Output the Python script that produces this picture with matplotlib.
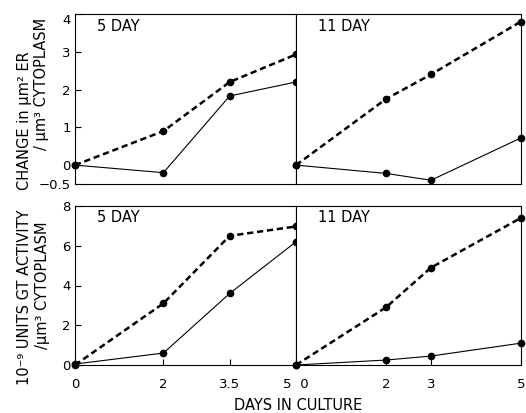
import matplotlib.pyplot as plt

# dias em cultura
dias5 = [0, 2, 3.5, 5]
dias11 = [0, 2, 3, 5]

# ER (topo)
er5_tracejada = [0, 0.9, 2.2, 2.93]
er5_solida = [0, -0.2, 1.83, 2.2]
er11_tracejada = [0, 1.75, 2.4, 3.8]
er11_solida = [0, -0.22, -0.4, 0.72]

# GT (baixo)
gt5_tracejada = [0, 3.1, 6.5, 6.97]
gt5_solida = [0.05, 0.6, 3.6, 6.2]
gt11_tracejada = [0, 2.9, 4.9, 7.4]
gt11_solida = [0, 0.25, 0.45, 1.1]

plt.rcParams['font.family'] = 'DejaVu Sans'
plt.rcParams['font.size'] = 9.5

fig = plt.figure(figsize=(5.26, 4.13), dpi=100)

ax_tl = fig.add_axes([75/526, 1-184/413, 221/526, 170/413])
ax_tr = fig.add_axes([296/526, 1-184/413, 225/526, 170/413])
ax_bl = fig.add_axes([75/526, 1-365/413, 221/526, 159/413])
ax_br = fig.add_axes([296/526, 1-365/413, 225/526, 159/413])


def desenha(ax, x, tracejada, solida, titulo):
    ax.plot(x, tracejada, color='black', linestyle=(0, (2.5, 1.5)), linewidth=1.8,
            marker='o', markersize=4.5, clip_on=False, zorder=3)
    ax.plot(x, solida, color='black', linestyle='-', linewidth=0.8,
            marker='o', markersize=4.5, clip_on=False, zorder=3)
    ax.text(0.1, 0.9, titulo, transform=ax.transAxes, fontsize=10.5)
    ax.set_xlim(0, 5)
    for s in ax.spines.values():
        s.set_linewidth(0.8)
    ax.tick_params(direction='in', length=4, width=0.8, pad=3)


desenha(ax_tl, dias5, er5_tracejada, er5_solida, '5 DAY')
desenha(ax_tr, dias11, er11_tracejada, er11_solida, '11 DAY')
desenha(ax_bl, dias5, gt5_tracejada, gt5_solida, '5 DAY')
desenha(ax_br, dias11, gt11_tracejada, gt11_solida, '11 DAY')

for ax in [ax_tl, ax_tr]:
    ax.set_ylim(-0.5, 4)
    ax.set_xticks([])
ax_tl.set_yticks([-0.5, 0, 1, 2, 3, 4])
ax_tl.set_yticklabels(['\u22120.5', '0', '1', '2', '3', '4'])
ax_tl.get_yticklabels()[-1].set_va('top')

for ax in [ax_bl, ax_br]:
    ax.set_ylim(0, 8)
    ax.tick_params(axis='x', pad=9)
ax_bl.set_yticks([0, 2, 4, 6, 8])
ax_bl.set_xticks(dias5)
ax_bl.set_xticklabels(['0', '2', '3.5', '5 '])
ax_bl.get_xticklabels()[-1].set_ha('right')
ax_br.set_xticks(dias11)
ax_br.set_xticklabels([' 0', '2', '3', '5'])
ax_br.get_xticklabels()[0].set_ha('left')

for ax in [ax_tr, ax_br]:
    ax.set_yticks([])

# rotulos do eixo y, uma linha por vez
fig.text(25/526, 1-121/413, 'CHANGE in \u00b5m\u00b2 ER',
         rotation=90, ha='center', va='center', fontsize=10.5)
fig.text(42/526, 1-84/413, '/ \u00b5m\u00b3 CYTOPLASM',
         rotation=90, ha='center', va='center', fontsize=10.5)
fig.text(25/526, 1-297/413, '10\u207b\u2079 UNITS GT ACTIVITY',
         rotation=90, ha='center', va='center', fontsize=10.5)
fig.text(42/526, 1-285/413, '/\u00b5m\u00b3 CYTOPLASM',
         rotation=90, ha='center', va='center', fontsize=10.5)
fig.text(298/526, 1-405/413, 'DAYS IN CULTURE', ha='center', va='center', fontsize=10.5)

plt.savefig('out.png', dpi=100)
